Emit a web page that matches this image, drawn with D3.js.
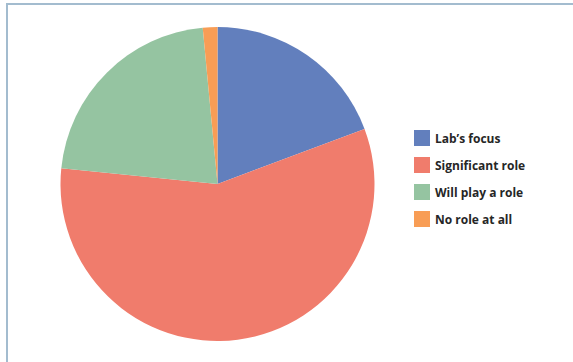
<!DOCTYPE html>
<html>
<head>
<meta charset="utf-8">
<script src="https://cdn.jsdelivr.net/npm/d3@7"></script>
<style>
  body { margin: 0; background: #fff; }
  svg { display: block; }
</style>
</head>
<body>
<svg id="chart" width="573" height="362"></svg>
<script>
// slice data, clockwise from 12 o'clock
var labels = ["Lab\u2019s focus", "Significant role", "Will play a role", "No role at all"];
var values = [19.3, 57.3, 21.9, 1.5];
var colors = ["#627fbd", "#f07c6c", "#95c4a1", "#f89d55"];

var width = 573,
    height = 362,
    cx = 217.5,
    cy = 184,
    radius = 157;

var svg = d3.select("#chart");

// frame lines (top + left only visible)
svg.append("line")
  .attr("x1", 6.5).attr("y1", 4).attr("x2", width).attr("y2", 4)
  .attr("stroke", "#a3bccf").attr("stroke-width", 2);
svg.append("line")
  .attr("x1", 7).attr("y1", 3).attr("x2", 7).attr("y2", height)
  .attr("stroke", "#a3bccf").attr("stroke-width", 2);

var pie = d3.pie().sort(null).value(function(d) { return d; });
var arc = d3.arc().innerRadius(0).outerRadius(radius);

var g = svg.append("g")
  .attr("transform", "translate(" + cx + "," + cy + ")");

g.selectAll("path")
  .data(pie(values))
  .enter().append("path")
  .attr("d", arc)
  .attr("fill", function(d, i) { return colors[i]; });

// legend
var legend = svg.append("g")
  .attr("transform", "translate(414,130)");

var rows = legend.selectAll("g")
  .data(labels)
  .enter().append("g")
  .attr("transform", function(d, i) { return "translate(0," + (i * 27) + ")"; });

rows.append("rect")
  .attr("width", 16)
  .attr("height", 16)
  .attr("fill", function(d, i) { return colors[i]; });

rows.append("text")
  .attr("x", 21)
  .attr("y", 12.5)
  .attr("font-family", "'Open Sans', sans-serif")
  .attr("font-weight", 700)
  .attr("font-size", "12px")
  .attr("fill", "#262626")
  .text(function(d) { return d; });
</script>
</body>
</html>
